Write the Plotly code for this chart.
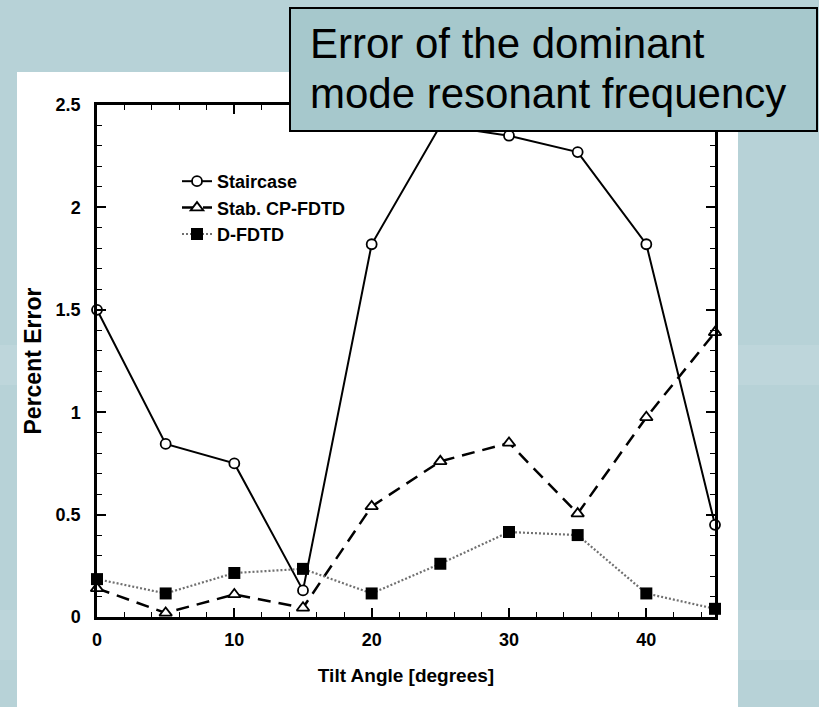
import plotly.graph_objects as go

# ---- data ----
tilt_angle = [0, 5, 10, 15, 20, 25, 30, 35, 40, 45]
staircase = [1.50, 0.845, 0.75, 0.13, 1.82, 2.40, 2.35, 2.27, 1.82, 0.45]
stab_cp_fdtd = [0.14, 0.02, 0.11, 0.045, 0.54, 0.76, 0.85, 0.505, 0.975, 1.39]
d_fdtd = [0.185, 0.115, 0.215, 0.235, 0.115, 0.26, 0.415, 0.40, 0.115, 0.04]

series_names = ["Staircase", "Stab. CP-FDTD", "D-FDTD"]
x_tick_vals = [0, 10, 20, 30, 40]
y_tick_vals = [0, 0.5, 1, 1.5, 2, 2.5]
y_tick_text = ["0", "0.5", "1", "1.5", "2", "2.5"]
title_lines = ["Error of the dominant", "mode resonant frequency"]

# ---- layout geometry (pixels) ----
W, H = 819, 707
PL, PR, PT, PB = 97, 715, 105, 617  # plot area edges


def px(x):
    return (x - PL) / (PR - PL)


def py(y):
    return (PB - y) / (PB - PT)


FONT = "Liberation Sans, Arial, sans-serif"

fig = go.Figure()
fig.add_trace(go.Scatter(
    x=tilt_angle, y=staircase, name=series_names[0], mode="lines+markers",
    line=dict(color="black", width=2),
    marker=dict(symbol="circle", size=10, color="white",
                line=dict(color="black", width=1.8)),
    cliponaxis=False))
fig.add_trace(go.Scatter(
    x=tilt_angle, y=stab_cp_fdtd, name=series_names[1], mode="lines+markers",
    line=dict(color="black", width=2.5, dash="13px,8px"),
    marker=dict(symbol="triangle-up", size=11, color="white",
                line=dict(color="black", width=1.8)),
    cliponaxis=False))
fig.add_trace(go.Scatter(
    x=tilt_angle, y=d_fdtd, name=series_names[2], mode="lines+markers",
    line=dict(color="#707070", width=2.2, dash="2px,2px"),
    marker=dict(symbol="square", size=12, color="black",
                line=dict(color="black", width=0)),
    cliponaxis=False))

shapes = [
    # background streaks
    dict(type="rect", xref="paper", yref="paper", x0=px(-10), x1=px(W + 10),
         y0=py(385), y1=py(345), fillcolor="rgba(255,255,255,0.10)",
         line=dict(width=0), layer="below"),
    dict(type="rect", xref="paper", yref="paper", x0=px(-10), x1=px(W + 10),
         y0=py(660), y1=py(610), fillcolor="rgba(255,255,255,0.08)",
         line=dict(width=0), layer="below"),
    # white panel behind the chart
    dict(type="rect", xref="paper", yref="paper", x0=px(17), x1=px(738),
         y0=py(H + 10), y1=py(72), fillcolor="white",
         line=dict(width=0), layer="below"),
    # title box
    dict(type="rect", xref="paper", yref="paper", x0=px(290), x1=px(817),
         y0=py(131), y1=py(8), fillcolor="#a6c8cc",
         line=dict(color="black", width=2), layer="above"),
]

annotations = [
    dict(text=title_lines[0], xref="paper", yref="paper", x=px(308), y=py(43),
         xanchor="left", yanchor="middle", showarrow=False,
         font=dict(family=FONT, size=42, color="black")),
    dict(text=title_lines[1], xref="paper", yref="paper", x=px(308), y=py(93),
         xanchor="left", yanchor="middle", showarrow=False,
         font=dict(family=FONT, size=42, color="black")),
]

axis_common = dict(
    showline=True, linecolor="black", linewidth=2.5, mirror="allticks",
    ticks="inside", tickcolor="black", tickwidth=1.5, ticklen=9,
    showgrid=False, zeroline=False,
    tickfont=dict(family=FONT, size=18, color="black", weight="bold"),
)

fig.update_layout(
    width=W, height=H,
    margin=dict(l=PL, r=W - PR, t=PT, b=H - PB, autoexpand=False),
    paper_bgcolor="#b7d2d7",
    plot_bgcolor="white",
    showlegend=True,
    legend=dict(x=px(177), y=py(163), xanchor="left", yanchor="top",
                bgcolor="rgba(0,0,0,0)", borderwidth=0,
                font=dict(family=FONT, size=18, color="black", weight="bold")),
    xaxis=dict(range=[0, 45], tickvals=x_tick_vals, ticklabelstandoff=5,
               minor=dict(dtick=2, tick0=0, ticks="inside", ticklen=5,
                          tickcolor="black", tickwidth=1.2),
               title=dict(text="Tilt Angle [degrees]", standoff=20,
                          font=dict(family=FONT, size=19, color="black", weight="bold")),
               **axis_common),
    yaxis=dict(range=[0, 2.5], tickvals=y_tick_vals, ticktext=y_tick_text,
               ticklabelstandoff=10,
               minor=dict(dtick=0.1, tick0=0, ticks="inside", ticklen=5,
                          tickcolor="black", tickwidth=1.2),
               title=dict(text="Percent Error", standoff=8,
                          font=dict(family=FONT, size=23, color="black", weight="bold")),
               **axis_common),
    shapes=shapes,
    annotations=annotations,
)

fig.write_html("out.html")
